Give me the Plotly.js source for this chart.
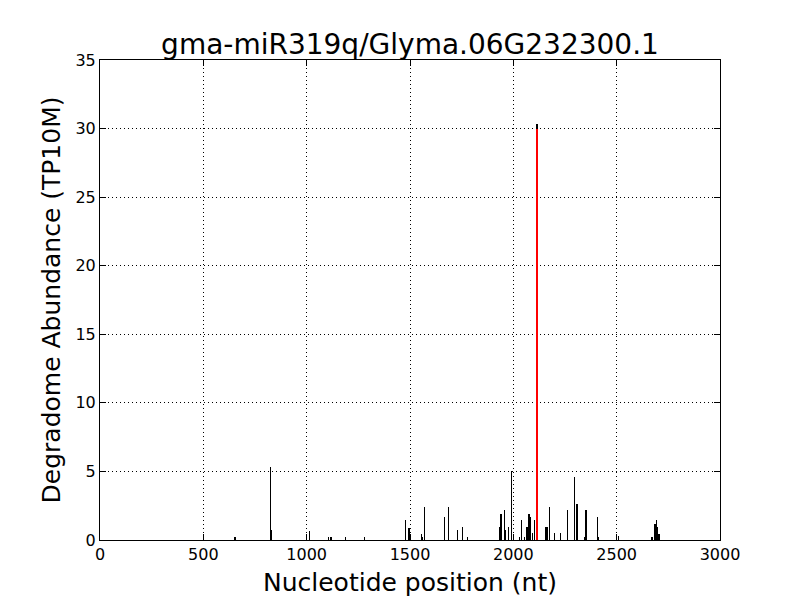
<!DOCTYPE html>
<html>
<head>
<meta charset="utf-8">
<script src="https://cdn.plot.ly/plotly-3.0.1.min.js"></script>
<style>html,body{margin:0;padding:0;background:#fff;}#chart{width:800px;height:600px;}</style>
</head>
<body>
<div id="chart"></div>
<script>
// Degradome tags (position in nt, abundance in TP10M)
const positions = [653, 824, 829, 1013, 1105, 1118, 1187, 1279, 1477, 1495, 1555, 1559, 1569, 1666, 1685, 1729, 1753, 1777,
  1932, 1940, 1956, 1961, 1976, 1991, 2000, 2029, 2039, 2053, 2066, 2076, 2082, 2092, 2102, 2114,
  2155, 2160, 2166, 2174, 2198, 2229, 2261, 2295, 2309, 2347, 2352, 2406, 2409, 2508,
  2671, 2685, 2694, 2698, 2705];
const abundance = [0.2, 5.3, 0.73, 0.68, 0.2, 0.2, 0.2, 0.2, 1.43, 0.9, 0.46, 0.2, 2.38, 1.68, 2.38, 0.73, 0.92, 0.2,
  0.92, 1.87, 2.16, 0.73, 0.92, 5.03, 0.2, 0.2, 1.43, 0.2, 0.92, 1.87, 1.65, 0.5, 1.43, 30.3,
  0.92, 0.92, 0.92, 2.38, 0.5, 0.5, 2.16, 4.57, 2.6, 0.2, 2.16, 1.67, 0.2, 0.3,
  0.2, 1.17, 1.43, 0.92, 0.46];
// Predicted cleavage site
const sitePosition = [2114];
const siteAbundance = [30];

const xTicks = [0, 500, 1000, 1500, 2000, 2500, 3000];
const yTicks = [0, 5, 10, 15, 20, 25, 30, 35];

const font = "DejaVu Sans, sans-serif";

const traces = [
  {type: 'bar', x: positions, y: abundance, width: 7,
   marker: {color: '#000000', line: {width: 0}}, hoverinfo: 'x+y', showlegend: false},
  {type: 'bar', x: sitePosition, y: siteAbundance, width: 13,
   marker: {color: '#ff0000', line: {width: 0}}, hoverinfo: 'x+y', showlegend: false}
];

const axisCommon = {
  showline: true, linecolor: '#000', linewidth: 1, mirror: 'ticks',
  ticks: 'inside', ticklen: 6, tickwidth: 1, tickcolor: '#000',
  showgrid: true, gridcolor: '#000', gridwidth: 1, griddash: '1px,3px',
  zeroline: false, tickfont: {family: font, size: 16, color: '#000'}
};

const layout = {
  width: 800, height: 600,
  margin: {l: 100, r: 80, t: 60, b: 60},
  paper_bgcolor: '#fff', plot_bgcolor: '#fff',
  barmode: 'overlay', bargap: 0,
  title: {text: 'gma-miR319q/Glyma.06G232300.1', font: {family: font, size: 28, color: '#000'},
          x: 0.5125, xanchor: 'center', y: 0.927, yanchor: 'middle', yref: 'container'},
  xaxis: Object.assign({}, axisCommon, {
    range: [0, 3000], tickvals: xTicks, ticktext: xTicks.map(String),
    title: {text: 'Nucleotide position (nt)', font: {family: font, size: 25, color: '#000'}, standoff: 10}
  }),
  yaxis: Object.assign({}, axisCommon, {
    range: [0, 35], tickvals: yTicks, ticktext: yTicks.map(String),
    title: {text: 'Degradome Abundance (TP10M)', font: {family: font, size: 25, color: '#000'}, standoff: 7}
  })
};

Plotly.newPlot('chart', traces, layout, {staticPlot: true});
</script>
</body>
</html>
